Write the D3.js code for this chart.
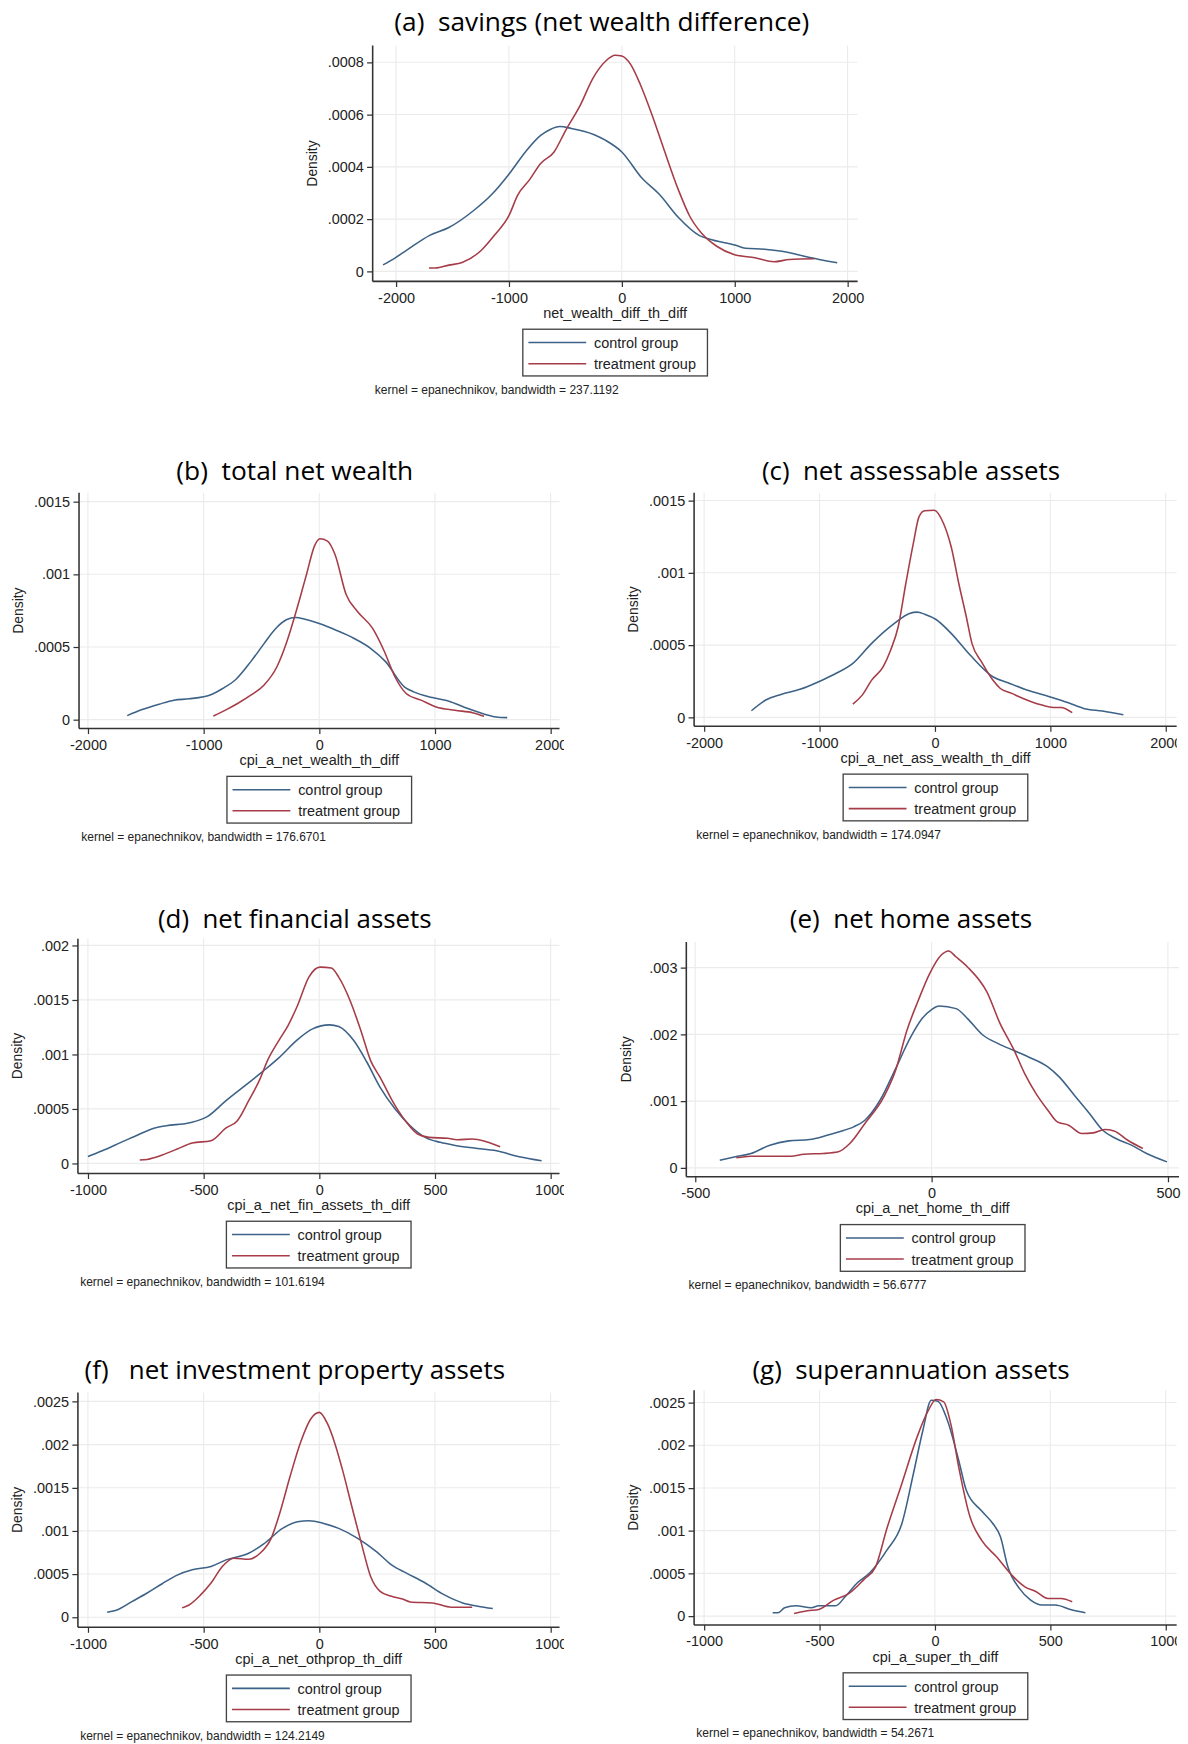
<!DOCTYPE html>
<html lang="en">
<head>
    <meta charset="UTF-8">
    <title>Kernel densities: control vs treatment</title>
    <style>
        html, body {
            margin: 0;
            padding: 0;
            background-color: #ffffff;
        }
        svg text {
            font-family: 'Liberation Sans', Arial, sans-serif;
            fill: #222;
        }
        .title {
            font-family: 'Open Sans', 'Noto Sans', sans-serif;
            white-space: pre;
        }
    </style>
</head>
<body>
    <div id="chart"></div>
    <script src="https://d3js.org/d3.v7.min.js"></script>
    <script>
        // DATA: [value, density]
        const aControl = [[-2115,.000025],[-2007,.000052],[-1905,.000081],[-1702,.000138],[-1532,.000168],[-1312,.000233],[-1142,.000299],[-1000,.000372],[-854,.000457],[-719,.00052],[-634,.000543],[-549,.000554],[-447,.000547],[-244,.000523],[-142,.000501],[0,.000457],[180,.000356],[332,.000295],[502,.000206],[688,.000137],[773,.000124],[1010,.0001],[1095,.0000886],[1264,.0000848],[1417,.0000772],[1654,.0000544],[1908,.0000329]];
        const aTreat = [[-1708,.0000127],[-1651,.0000127],[-1532,.000024],[-1414,.000034],[-1244,.000081],[-1125,.00014],[-1000,.000213],[-922,.000292],[-820,.000349],[-719,.000413],[-600,.000457],[-498,.000539],[-363,.00064],[-261,.000735],[-142,.000805],[-58,.000827],[0,.000824],[78,.000792],[163,.000716],[264,.000603],[366,.000476],[502,.000311],[603,.00021],[705,.000147],[841,.0000962],[993,.0000646],[1180,.0000519],[1349,.0000367],[1485,.0000456],[1705,.0000481]];

        const bControl = [[-1660,.0000276],[-1531,.000069],[-1385,.000106],[-1256,.000134],[-1126,.000143],[-932,.000173],[-835,.000214],[-722,.000276],[-592,.000399],[-479,.000521],[-382,.000622],[-285,.000687],[-204,.000703],[-123,.000691],[6,.000659],[136,.000618],[298,.00056],[443,.000491],[573,.000399],[735,.000226],[816,.000191],[977,.000152],[1139,.000122],[1285,.000076],[1430,.0000369],[1528,.0000184],[1625,.0000138]];
        const bTreat = [[-916,.0000253],[-803,.000069],[-706,.000111],[-592,.000168],[-479,.000237],[-366,.000364],[-285,.000525],[-204,.000733],[-155,.000871],[-107,.001009],[-42,.001194],[6,.001244],[71,.001228],[136,.001136],[233,.000859],[330,.000744],[460,.000629],[557,.000479],[654,.000295],[751,.00018],[880,.000134],[1010,.0000876],[1172,.0000645],[1333,.0000461],[1424,.000023]];

        const cControl = [[-1590,.000046],[-1466,.00012],[-1334,.000159],[-1170,.000194],[-1007,.000247],[-875,.000297],[-711,.000373],[-548,.000512],[-351,.00065],[-220,.000719],[-154,.000728],[-89,.000714],[10,.000677],[141,.000581],[305,.000431],[502,.000281],[633,.00024],[797,.000189],[993,.000143],[1157,.000101],[1289,.0000622],[1452,.0000438],[1633,.0000184]];
        const cTreat = [[-711,.0000922],[-630,.000154],[-548,.000258],[-449,.00035],[-384,.000465],[-318,.000627],[-252,.000926],[-187,.001203],[-138,.001387],[-89,.001429],[-7,.001433],[75,.001341],[141,.00118],[207,.000926],[272,.000696],[321,.000512],[403,.000385],[502,.000258],[567,.0002],[666,.000166],[764,.000131],[928,.0000853],[1026,.0000691],[1092,.0000691],[1190,.0000323]];

        const dControl = [[-1000,.0000643],[-938,.000116],[-857,.000193],[-792,.000254],[-711,.000325],[-662,.000346],[-565,.000371],[-484,.000429],[-403,.000576],[-321,.000714],[-240,.000851],[-175,.000968],[-94,.001136],[-29,.001234],[44,.001271],[84,.001256],[149,.001127],[206,.000928],[263,.000698],[328,.000499],[393,.000346],[458,.000239],[523,.000193],[588,.000165],[669,.000141],[766,.000116],[864,.0000613],[961,.0000245]];
        const dTreat = [[-776,.0000306],[-744,.0000368],[-679,.0000766],[-614,.000132],[-549,.000187],[-468,.000208],[-403,.000325],[-354,.000392],[-305,.000576],[-256,.000775],[-224,.000943],[-175,.001127],[-135,.001265],[-94,.001449],[-45,.001709],[3,.001801],[52,.001792],[84,.001709],[133,.001495],[182,.001204],[222,.000943],[263,.00079],[328,.00053],[377,.000377],[425,.00027],[474,.000239],[555,.00023],[596,.000217],[661,.000224],[718,.000202],[782,.000153]];

        const eControl = [[-448,.000115],[-415,.000165],[-382,.000215],[-342,.00034],[-302,.000404],[-258,.000424],[-221,.000489],[-197,.000539],[-165,.000614],[-141,.000714],[-109,.001013],[-76,.001488],[-44,.001962],[-20,.002237],[0,.002371],[16,.002426],[52,.002386],[76,.002237],[109,.001987],[141,.001862],[173,.001762],[205,.001662],[246,.001513],[270,.001363],[302,.001088],[334,.000814],[362,.000564],[390,.000439],[423,.00034],[455,.000215],[498,.0000899]];
        const eTreat = [[-413,.00015],[-382,.000175],[-342,.000175],[-298,.000175],[-270,.000205],[-229,.000215],[-197,.00024],[-173,.000364],[-141,.000664],[-101,.001063],[-76,.001463],[-52,.002062],[-28,.002511],[-4,.002911],[20,.003185],[36,.00325],[52,.00316],[76,.00301],[117,.002636],[145,.002162],[173,.001787],[197,.001413],[221,.001113],[246,.000864],[266,.000689],[290,.000639],[318,.000514],[342,.000524],[366,.000574],[386,.000554],[415,.000414],[447,.00029]];

        const fControl = [[-917,.0000576],[-881,.0000768],[-808,.000184],[-744,.00028],[-679,.000388],[-614,.000488],[-549,.000549],[-468,.000588],[-403,.000664],[-305,.000741],[-240,.000849],[-159,.001029],[-94,.001106],[-45,.001118],[19,.001087],[84,.001029],[166,.000914],[247,.00076],[312,.000607],[377,.000511],[458,.000396],[539,.000261],[620,.000165],[685,.000127],[750,.0000998]];
        const fTreat = [[-593,.000108],[-565,.000138],[-516,.00025],[-468,.000396],[-419,.000588],[-370,.000684],[-305,.000672],[-256,.000741],[-208,.000914],[-167,.00124],[-127,.001624],[-78,.002047],[-37,.002296],[0,.002373],[36,.002239],[68,.002008],[101,.001701],[141,.001279],[182,.000856],[222,.000472],[263,.0003],[312,.000242],[360,.000211],[393,.000177],[490,.000165],[571,.000115],[661,.000115]];

        const gControl = [[-703,.000039],[-680,.000039],[-651,.0000975],[-602,.000121],[-536,.0000975],[-503,.000121],[-430,.000121],[-389,.000226],[-339,.000382],[-282,.000507],[-208,.000772],[-143,.001084],[-93,.001669],[-52,.002176],[-16,.002527],[13,.002516],[54,.002293],[103,.001825],[136,.001474],[202,.001232],[251,.001084],[284,.000928],[316,.000577],[366,.000324],[415,.000187],[464,.000129],[521,.000129],[587,.000078],[652,.000039]];
        const gTreat = [[-610,.0000312],[-552,.0000624],[-503,.000078],[-438,.000187],[-372,.000265],[-307,.000429],[-257,.000577],[-208,.001026],[-143,.001552],[-77,.002098],[-28,.00241],[5,.002535],[38,.002508],[70,.002235],[103,.001747],[152,.001162],[202,.000889],[267,.000694],[333,.00048],[390,.000343],[439,.000285],[489,.000207],[546,.000207],[595,.000168]];

        const titles = ["(a)  savings (net wealth difference)", "(b)  total net wealth", "(c)  net assessable assets",
                        "(d)  net financial assets", "(e)  net home assets", "(f)   net investment property assets",
                        "(g)  superannuation assets"];
        const xLabels = ["net_wealth_diff_th_diff", "cpi_a_net_wealth_th_diff", "cpi_a_net_ass_wealth_th_diff",
                         "cpi_a_net_fin_assets_th_diff", "cpi_a_net_home_th_diff", "cpi_a_net_othprop_th_diff",
                         "cpi_a_super_th_diff"];
        const bandwidths = ["237.1192", "176.6701", "174.0947", "101.6194", "56.6777", "124.2149", "54.2671"];
        const xTicks = [[-2000, -1000, 0, 1000, 2000], [-2000, -1000, 0, 1000, 2000], [-2000, -1000, 0, 1000, 2000],
                        [-1000, -500, 0, 500, 1000], [-500, 0, 500], [-1000, -500, 0, 500, 1000], [-1000, -500, 0, 500, 1000]];
        const yTicks = [[0, .0002, .0004, .0006, .0008], [0, .0005, .001, .0015], [0, .0005, .001, .0015],
                        [0, .0005, .001, .0015, .002], [0, .001, .002, .003], [0, .0005, .001, .0015, .002, .0025],
                        [0, .0005, .001, .0015, .002, .0025]];
        const controls = [aControl, bControl, cControl, dControl, eControl, fControl, gControl];
        const treats = [aTreat, bTreat, cTreat, dTreat, eTreat, fTreat, gTreat];
        const groups = ["control group", "treatment group"];

        // LAYOUT (drawn in the 1068x1568 space of the reference, scaled up by viewBox)
        const W = 1068, H = 1568;
        const colors = ["#3d6287", "#a63c48"];
        const panels = [
            {left: 335, right: 771, top: 41, bottom: 253, xr: [356, 762], yr: [244, 56], titleX: 541, titleY: 28, titleW: 373, clipX: 1068},
            {left: 71, right: 503, top: 443, bottom: 655, xr: [79, 495], yr: [647, 451], titleX: 265, titleY: 432, titleW: 213, clipX: 507},
            {left: 624, right: 1058, top: 443, bottom: 653, xr: [633, 1048], yr: [645, 450], titleX: 819, titleY: 432, titleW: 268, clipX: 1058},
            {left: 70, right: 503, top: 844, bottom: 1055, xr: [79, 495], yr: [1046, 850], titleX: 265, titleY: 834, titleW: 246, clipX: 507},
            {left: 617, right: 1060, top: 847, bottom: 1058, xr: [625, 1050], yr: [1050, 870], titleX: 819, titleY: 834, titleW: 218, clipX: 1068},
            {left: 70, right: 503, top: 1252, bottom: 1463, xr: [79, 495], yr: [1454, 1260], titleX: 265, titleY: 1240, titleW: 378, clipX: 507},
            {left: 624, right: 1058, top: 1250, bottom: 1461, xr: [633, 1048], yr: [1453, 1261], titleX: 819, titleY: 1240, titleW: 285, clipX: 1058}
        ];

        const svg = d3.select("#chart")
            .append("svg")
            .attr("width", 1188)
            .attr("height", 1744)
            .attr("viewBox", `0 0 ${W} ${H}`);

        // Stata style labels: ".0005", "-1000" with a plain hyphen
        const fmtY = d => d === 0 ? "0" : d3.format(".4~f")(d).replace(/^0/, "");
        const fmtX = d => String(d);

        panels.forEach((p, i) => {
            const xt = xTicks[i], yt = yTicks[i];
            const x = d3.scaleLinear().domain([xt[0], xt[xt.length - 1]]).range(p.xr);
            const y = d3.scaleLinear().domain([0, yt[yt.length - 1]]).range(p.yr);

            svg.append("clipPath").attr("id", "clip" + i)
                .append("rect").attr("x", p.left - 80).attr("y", p.top - 60)
                .attr("width", p.clipX - (p.left - 80)).attr("height", 400);

            const g = svg.append("g").attr("clip-path", `url(#clip${i})`);

            // title
            g.append("text")
                .attr("class", "title")
                .attr("x", p.titleX - p.titleW / 2)
                .attr("y", p.titleY)
                .attr("textLength", p.titleW)
                .attr("lengthAdjust", "spacingAndGlyphs")
                .style("font-size", "23px")
                .style("fill", "#000")
                .text(titles[i]);

            // gridlines
            g.selectAll(".vgrid").data(xt).enter().append("line")
                .attr("x1", d => x(d)).attr("x2", d => x(d))
                .attr("y1", p.top).attr("y2", p.bottom)
                .style("stroke", "#ebebeb").style("stroke-width", 1);
            g.selectAll(".hgrid").data(yt).enter().append("line")
                .attr("x1", p.left).attr("x2", p.right)
                .attr("y1", d => y(d)).attr("y2", d => y(d))
                .style("stroke", "#ebebeb").style("stroke-width", 1);

            // axes
            const xAxis = d3.axisBottom(x).tickValues(xt).tickSize(5).tickPadding(5).tickFormat(fmtX);
            const xg = g.append("g").attr("transform", `translate(0, ${p.bottom})`).call(xAxis);
            xg.select(".domain").attr("d", `M${p.left},0H${p.right}`);
            const yAxis = d3.axisLeft(y).tickValues(yt).tickSize(5).tickPadding(3).tickFormat(fmtY);
            const yg = g.append("g").attr("transform", `translate(${p.left}, 0)`).call(yAxis);
            yg.select(".domain").attr("d", `M0,${p.top}V${p.bottom}`);
            [xg, yg].forEach(a => {
                a.selectAll(".domain, line").style("stroke", "#333").style("stroke-width", 1.1);
                a.selectAll("text").style("font-size", "13px").style("font-family", "'Liberation Sans', Arial, sans-serif").style("fill", "#222");
            });
            xg.select(".domain").style("stroke-width", 1.4);
            yg.select(".domain").style("stroke-width", 1.4);

            // curves
            const line = d3.line()
                .x(d => x(d[0]))
                .y(d => y(d[1]))
                .curve(d3.curveMonotoneX);
            [controls[i], treats[i]].forEach((s, k) => {
                g.append("path")
                    .datum(s)
                    .attr("d", line)
                    .style("fill", "none")
                    .style("stroke", colors[k])
                    .style("stroke-width", 1.4);
            });

            // labels
            const cx = (p.left + p.right) / 2;
            g.append("text")
                .attr("transform", `translate(${p.left - 50}, ${(p.top + p.bottom) / 2}) rotate(-90)`)
                .attr("text-anchor", "middle")
                .style("font-size", "12.5px")
                .text("Density");
            g.append("text")
                .attr("x", cx).attr("y", p.bottom + 33)
                .attr("text-anchor", "middle")
                .style("font-size", "13px")
                .text(xLabels[i]);

            // legend
            const lx = cx - 83, ly = p.bottom + 43;
            const legend = g.append("g");
            legend.append("rect")
                .attr("x", lx).attr("y", ly).attr("width", 166).attr("height", 42)
                .style("fill", "#fff").style("stroke", "#444").style("stroke-width", 1.2);
            groups.forEach((name, k) => {
                legend.append("line")
                    .attr("x1", lx + 5).attr("x2", lx + 57)
                    .attr("y1", ly + 12 + k * 19).attr("y2", ly + 12 + k * 19)
                    .style("stroke", colors[k]).style("stroke-width", 1.4);
                legend.append("text")
                    .attr("x", lx + 64).attr("y", ly + 17 + k * 19)
                    .style("font-size", "13px")
                    .text(name);
            });

            g.append("text")
                .attr("x", p.left + 2).attr("y", p.bottom + 101)
                .style("font-size", "10.8px")
                .text("kernel = epanechnikov, bandwidth = " + bandwidths[i]);
        });
    </script>
</body>
</html>
